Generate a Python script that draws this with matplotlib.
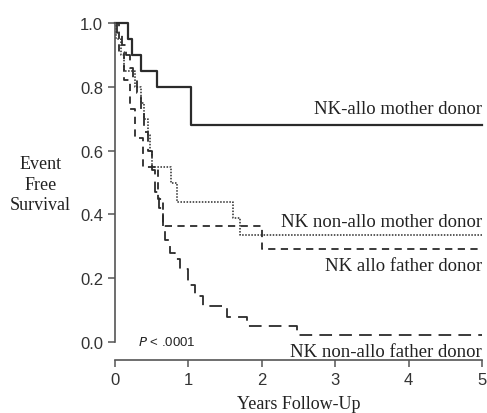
import matplotlib.pyplot as plt

# Kaplan-Meier step data (years, event free survival)
t_allo_mother = [0, 0.18, 0.23, 0.35, 0.57, 1.04, 5.0]
s_allo_mother = [1.0, 0.95, 0.90, 0.85, 0.80, 0.68, 0.68]

t_nonallo_mother = [0, 0.02, 0.08, 0.12, 0.27, 0.35, 0.40, 0.45, 0.48, 0.50,
                    0.77, 0.84, 1.61, 1.70, 5.0]
s_nonallo_mother = [1.0, 0.95, 0.90, 0.85, 0.80, 0.75, 0.70, 0.65, 0.60, 0.55,
                    0.50, 0.44, 0.39, 0.335, 0.335]

t_allo_father = [0, 0.05, 0.12, 0.20, 0.27, 0.38, 0.58, 0.65, 2.0, 5.0]
s_allo_father = [1.0, 0.91, 0.82, 0.73, 0.64, 0.55, 0.45, 0.364, 0.291, 0.291]

t_nonallo_father = [0, 0.03, 0.10, 0.15, 0.20, 0.25, 0.30, 0.35, 0.40, 0.45,
                    0.50, 0.55, 0.60, 0.65, 0.68, 0.75, 0.82, 0.89, 0.99,
                    1.09, 1.20, 1.53, 1.80, 2.48, 5.0]
s_nonallo_father = [1.0, 0.97, 0.93, 0.90, 0.86, 0.82, 0.78, 0.72, 0.66, 0.60,
                    0.54, 0.47, 0.42, 0.36, 0.32, 0.28, 0.26, 0.23, 0.18,
                    0.145, 0.113, 0.08, 0.05, 0.022, 0.022]

labels = ["NK-allo mother donor", "NK non-allo mother donor",
          "NK allo father donor", "NK non-allo father donor"]
label_y = [0.705, 0.352, 0.213, -0.055]

serif = ["Liberation Serif", "DejaVu Serif"]
sans = ["Liberation Sans", "DejaVu Sans"]
col = "#2b2b2b"

fig = plt.figure(figsize=(4.87, 4.14), dpi=100)
ax = fig.add_axes([0.236, 0.128, 0.754, 0.814])

ax.step(t_allo_mother, s_allo_mother, where="post", color=col, lw=1.6,
        clip_on=False)
ax.step(t_nonallo_mother, s_nonallo_mother, where="post", color=col, lw=1.1,
        linestyle=(0, (1, 1)), clip_on=False)
ax.step(t_allo_father, s_allo_father, where="post", color=col, lw=1.3,
        linestyle=(0, (4, 3)), clip_on=False)
ax.step(t_nonallo_father, s_nonallo_father, where="post", color=col, lw=1.3,
        linestyle=(0, (7, 4)), clip_on=False)

for lab, y in zip(labels, label_y):
    ax.text(5.0, y, lab, ha="right", va="bottom", fontsize=13.5,
            family=serif, color="#222222")

ax.text(0.31, 0.003, "$P$ < .0001", fontsize=9.5, family=sans,
        color="#222222", va="center")

ax.set_xlim(0, 5)
ax.set_ylim(-0.056, 1.0)
ax.set_xticks([0, 1, 2, 3, 4, 5])
ax.set_yticks([0.0, 0.2, 0.4, 0.6, 0.8, 1.0])
ax.set_yticklabels(["0.0", "0.2", "0.4", "0.6", "0.8", "1.0"])
for s in ["top", "right"]:
    ax.spines[s].set_visible(False)
ax.spines["left"].set_bounds(0, 1.0)
for s in ["left", "bottom"]:
    ax.spines[s].set_color("#555555")
    ax.spines[s].set_linewidth(1.2)
ax.tick_params(colors="#555555", labelcolor="#333333", labelsize=12,
               length=5, width=1.1)
for lbl in ax.get_xticklabels() + ax.get_yticklabels():
    lbl.set_family(sans)

ax.set_xlabel("Years Follow-Up", fontsize=13, family=serif, color="#222222",
              labelpad=6)
fig.text(0.083, 0.553, "Event\nFree\nSurvival", ha="center", va="center",
         fontsize=13, family=serif, color="#222222", linespacing=1.25)

fig.savefig("out.png", dpi=100)
